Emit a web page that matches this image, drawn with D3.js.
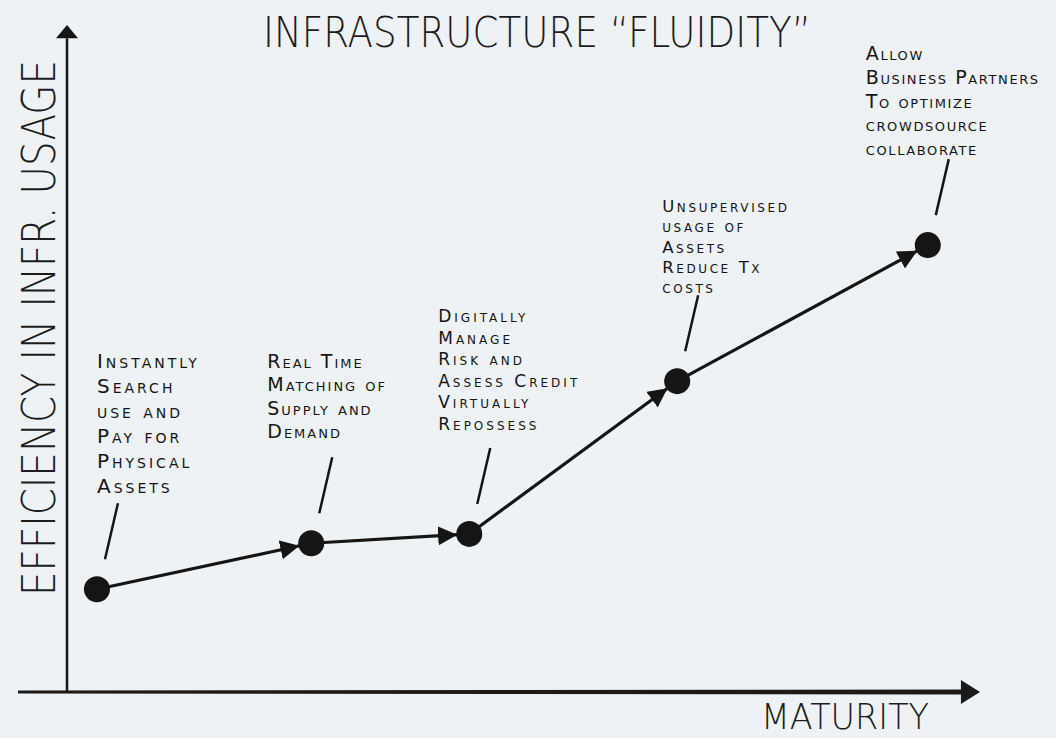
<!DOCTYPE html>
<html>
<head>
<meta charset="utf-8">
<script src="https://cdn.jsdelivr.net/npm/d3@7"></script>
<style>
  html, body { margin: 0; padding: 0; background: #eef2f4; }
  svg { display: block; }
  .lbl { font-family: "DejaVu Sans", sans-serif; font-variant: small-caps; fill: #151515; }
  .hand { font-family: "DejaVu Sans", sans-serif; font-weight: 200; fill: #1c1c1c; }
</style>
</head>
<body>
<div id="chart"></div>
<script>
const width = 1056;
const height = 738;

// Stages along the maturity curve
const stages = ["Search & pay", "Real time matching", "Digital risk", "Unsupervised usage", "Partners optimize"];
const maturity = [3.3, 26.9, 44.3, 67.2, 94.8];
const efficiency = [15.4, 22.3, 23.7, 46.6, 67.0];
const notes = [
    ["Instantly", "Search", "use and", "Pay for", "Physical", "Assets"],
    ["Real Time", "Matching of", "Supply and", "Demand"],
    ["Digitally", "Manage", "Risk and", "Assess Credit", "Virtually", "Repossess"],
    ["Unsupervised", "usage  of", "Assets", "Reduce Tx", "costs"],
    ["Allow", "Business Partners", "To optimize", "crowdsource", "collaborate"]
];

const titleText = "INFRASTRUCTURE \u201CFLUIDITY\u201D";
const xLabel = "MATURITY";
const yLabel = "EFFICIENCY IN INFR. USAGE";

// layout of the annotation blocks (offsets from each dot)
const noteDx = [0, -44, -31, -15, -62];
const noteGap = [96, 105, 104, 88, 90];
const noteLineH = [25, 23.5, 21.6, 20.3, 23.8];
const noteSize = [20, 19, 17, 16.5, 19];
const noteSpacing = [3, 2, 3, 2.6, 1.6];

const x = d3.scaleLinear().domain([0, 100]).range([67, 975]);
const y = d3.scaleLinear().domain([0, 100]).range([692, 25]);

const data = stages.map((s, i) => ({ stage: s, m: maturity[i], e: efficiency[i], note: notes[i] }));

const svg = d3.select("#chart").append("svg")
    .attr("width", width)
    .attr("height", height);

svg.append("rect").attr("width", width).attr("height", height).attr("fill", "#eef2f4");

const defs = svg.append("defs");
defs.append("marker")
    .attr("id", "head")
    .attr("viewBox", "0 0 10 10")
    .attr("refX", 10).attr("refY", 5)
    .attr("markerWidth", 6).attr("markerHeight", 6)
    .attr("markerUnits", "strokeWidth")
    .attr("orient", "auto")
    .append("path")
    .attr("d", "M0,0 L10,5 L0,10 Z")
    .attr("fill", "#151515");

// axes
const x0 = x(0), y0 = y(0);
svg.append("line")
    .attr("x1", x0).attr("x2", x0)
    .attr("y1", y0).attr("y2", y(98))
    .attr("stroke", "#151515").attr("stroke-width", 2.5);
svg.append("path")
    .attr("d", `M${x0},${y(100)} L${x0 + 11},${y(98)} L${x0 - 11},${y(98)} Z`)
    .attr("fill", "#151515");

svg.append("path")
    .attr("d", `M18,${y0 - 1.5} L${x(99)},${y0 - 2.5} L${x(99)},${y0 + 2.5} L18,${y0 + 1.5} Z`)
    .attr("fill", "#1a1a1a");
svg.append("path")
    .attr("d", `M${x(100) + 5},${y0} L${x(99) - 5},${y0 - 12} L${x(99) - 5},${y0 + 12} Z`)
    .attr("fill", "#1a1a1a");

// title + axis labels (hand lettering is tall and narrow -> stretch vertically)
svg.append("text")
    .attr("class", "hand")
    .attr("transform", "translate(263,47) scale(1,1.4)")
    .attr("textLength", 548)
    .attr("lengthAdjust", "spacingAndGlyphs")
    .style("font-size", "31px")
    .text(titleText);

svg.append("text")
    .attr("class", "hand")
    .attr("transform", "translate(761,729) scale(1,1.3)")
    .attr("textLength", 168)
    .attr("lengthAdjust", "spacingAndGlyphs")
    .style("font-size", "27px")
    .text(xLabel);

svg.append("text")
    .attr("class", "hand")
    .attr("transform", "translate(55,596) rotate(-90) scale(1,1.4)")
    .attr("textLength", 536)
    .attr("lengthAdjust", "spacingAndGlyphs")
    .style("font-size", "33px")
    .text(yLabel);

// connecting segments with arrowheads, stopping at the dot's edge
const r = 13;
const segs = d3.pairs(data);
svg.selectAll(".seg")
    .data(segs)
    .enter().append("line")
    .attr("class", "seg")
    .each(function ([a, b]) {
        const ax = x(a.m), ay = y(a.e), bx = x(b.m), by = y(b.e);
        const len = Math.hypot(bx - ax, by - ay);
        const ux = (bx - ax) / len, uy = (by - ay) / len;
        d3.select(this)
            .attr("x1", ax).attr("y1", ay)
            .attr("x2", bx - ux * (r - 1)).attr("y2", by - uy * (r - 1));
    })
    .attr("stroke", "#151515")
    .attr("stroke-width", 3.2)
    .attr("marker-end", "url(#head)");

svg.selectAll(".dot")
    .data(data)
    .enter().append("circle")
    .attr("class", "dot")
    .attr("cx", d => x(d.m))
    .attr("cy", d => y(d.e))
    .attr("r", r)
    .attr("fill", "#151515");

// leader lines
svg.selectAll(".leader")
    .data(data)
    .enter().append("line")
    .attr("class", "leader")
    .attr("x1", d => x(d.m) + 8).attr("y1", d => y(d.e) - 30)
    .attr("x2", d => x(d.m) + 21).attr("y2", d => y(d.e) - 86)
    .attr("stroke", "#151515")
    .attr("stroke-width", 2.5);

// annotation blocks
const g = svg.selectAll(".note")
    .data(data)
    .enter().append("text")
    .attr("class", "lbl")
    .style("font-size", (d, i) => noteSize[i] + "px")
    .style("letter-spacing", (d, i) => noteSpacing[i] + "px");

g.each(function (d, i) {
    const n = d.note.length;
    const lh = noteLineH[i];
    const baseY = y(d.e) - noteGap[i] - (n - 1) * lh;
    d3.select(this).selectAll("tspan")
        .data(d.note)
        .enter().append("tspan")
        .attr("x", x(d.m) + noteDx[i])
        .attr("y", (t, k) => baseY + k * lh)
        .text(t => t);
});
</script>
</body>
</html>
